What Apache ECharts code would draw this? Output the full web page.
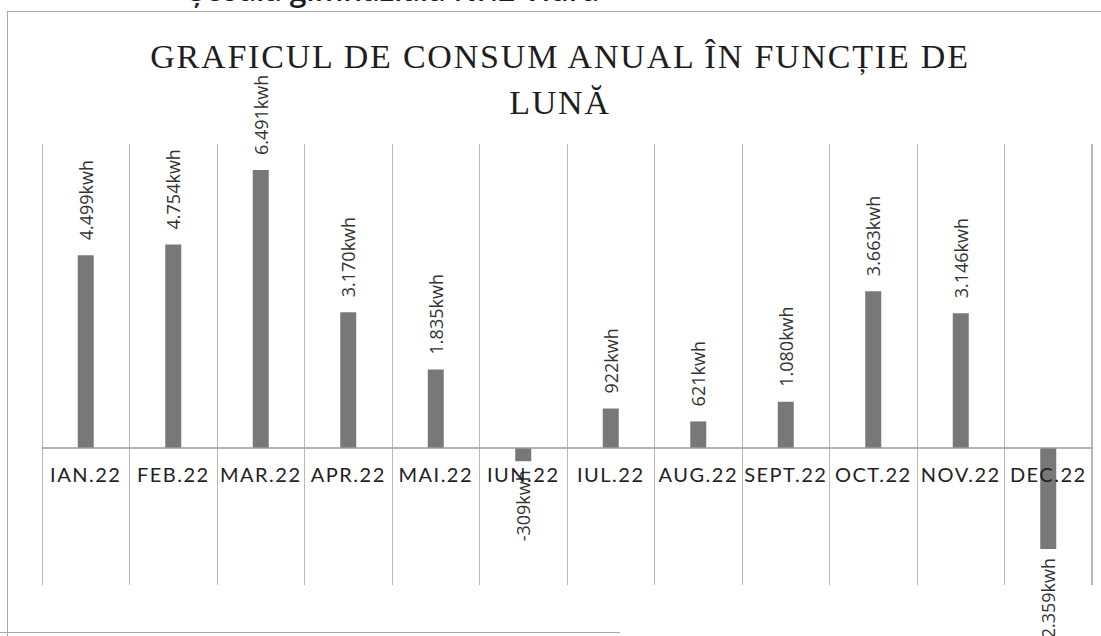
<!DOCTYPE html>
<html>
<head>
<meta charset="utf-8">
<script src="https://cdn.jsdelivr.net/npm/echarts@6/dist/echarts.min.js"></script>
<style>
  html, body { margin: 0; padding: 0; background: #fff; }
  #wrap { position: relative; width: 1101px; height: 636px; overflow: hidden; background: #fff; }
  #c { position: absolute; left: 0; top: 0; width: 1101px; height: 636px; }
  .ln { position: absolute; background: #a8a8a8; pointer-events: none; }
  .cap { position: absolute; white-space: nowrap; font-family: "Open Sans", sans-serif; font-weight: 600; font-size: 30px; line-height: 30px; color: #1e1e1e; }
  #c text[style*="Liberation Serif"] { letter-spacing: 1.8px; }
  #c text[style*="Lato"] { letter-spacing: 1.5px; }
</style>
</head>
<body>
<div id="wrap">
  <div id="c"></div>
  <div class="cap" style="left:150px; top:-25px; font-family:'DejaVu Sans'; font-weight:400; font-size:22px;">➢</div>
  <div class="cap" style="left:189px; top:-25px;">Școala gimnazială Nr.2 Vidra</div>
  <div class="ln" style="left:7px; top:11px; width:1094px; height:1px;"></div>
  <div class="ln" style="left:7px; top:11px; width:1px; height:625px;"></div>
  <div class="ln" style="left:0px; top:632px; width:620px; height:1px;"></div>
  <div class="ln" style="left:1091px; top:144px; width:1px; height:441px; background:#b8b8b8;"></div>
</div>
<script>
const titleLines = ['GRAFICUL DE CONSUM ANUAL ÎN FUNCȚIE DE', 'LUNĂ'];
const months = ['IAN.22', 'FEB.22', 'MAR.22', 'APR.22', 'MAI.22', 'IUN.22',
                'IUL.22', 'AUG.22', 'SEPT.22', 'OCT.22', 'NOV.22', 'DEC.22'];
const consumption = [4499, 4754, 6491, 3170, 1835, -309, 922, 621, 1080, 3663, 3146, -2359];
const unit = 'kwh';

function fmt(v) {
  const s = String(Math.abs(v)).replace(/\B(?=(\d{3})+(?!\d))/g, '.');
  return (v < 0 ? '-' : '') + s + unit;
}

const Y_MIN = -3200, Y_MAX = 7100;
const GRID_TOP = 144, GRID_BOTTOM = 51, H = 636;
const plotH = H - GRID_TOP - GRID_BOTTOM;
// move the category axis (line + labels) up to the value 0
const zeroOffset = -Math.round(plotH * (0 - Y_MIN) / (Y_MAX - Y_MIN));

const chart = echarts.init(document.getElementById('c'), null, { renderer: 'svg' });
chart.setOption({
  animation: false,
  title: {
    text: titleLines.join('\n'),
    left: 560,
    textAlign: 'center',
    top: 33,
    padding: 0,
    textStyle: {
      fontFamily: 'Liberation Serif',
      fontSize: 34,
      fontWeight: 'normal',
      color: '#1e1e1e',
      lineHeight: 46
    }
  },
  grid: { left: 42, right: 9, top: GRID_TOP, bottom: GRID_BOTTOM, containLabel: false },
  xAxis: {
    type: 'category',
    data: months,
    boundaryGap: true,
    position: 'bottom',
    offset: zeroOffset,
    z: 5,
    axisLine: { onZero: false, lineStyle: { color: '#9a9a9a', width: 1.5 } },
    axisTick: { show: false },
    axisLabel: {
      interval: 0,
      margin: 16,
      fontFamily: 'Lato',
      fontSize: 20,
      color: '#222'
    },
    splitLine: { show: true, interval: 0, lineStyle: { color: '#b8b8b8', width: 1 } }
  },
  yAxis: {
    type: 'value',
    min: Y_MIN,
    max: Y_MAX,
    show: false,
    splitLine: { show: false }
  },
  series: [{
    type: 'bar',
    barWidth: 16,
    itemStyle: { color: '#787878' },
    data: consumption.map(v => v < 0
      ? { value: v, label: { position: 'bottom', align: 'right', distance: 9 } }
      : { value: v }),
    label: {
      show: true,
      position: 'top',
      distance: 15,
      rotate: 90,
      align: 'left',
      verticalAlign: 'middle',
      fontFamily: 'Open Sans',
      fontSize: 18,
      color: '#333',
      formatter: p => fmt(p.value)
    }
  }]
});
</script>
</body>
</html>
